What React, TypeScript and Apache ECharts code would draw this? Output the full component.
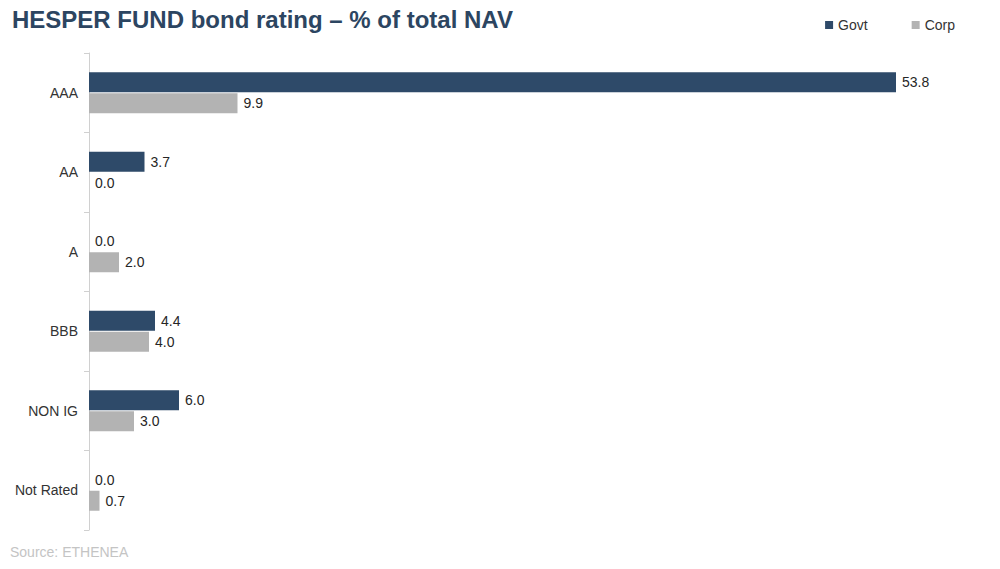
import React, { useEffect, useRef } from "react";
import * as echarts from "echarts";

const categories = ["AAA", "AA", "A", "BBB", "NON IG", "Not Rated"];
const govtValues = [53.8, 3.7, 0.0, 4.4, 6.0, 0.0];
const corpValues = [9.9, 0.0, 2.0, 4.0, 3.0, 0.7];
const seriesNames = ["Govt", "Corp"];
const titleText = "HESPER FUND bond rating – % of total NAV";
const sourceText = "Source: ETHENEA";

export default function App() {
  const ref = useRef<HTMLDivElement>(null);
  useEffect(() => {
    if (!ref.current) return;
    const chart = echarts.init(ref.current, null, { renderer: "svg" });
    const font = "Liberation Sans, Arial, sans-serif";
    const label = {
      show: true,
      position: "right",
      distance: 6,
      color: "#262626",
      fontSize: 14,
      fontFamily: font,
      formatter: (p: any) => Number(p.value).toFixed(1),
    };
    chart.setOption({
      animation: false,
      backgroundColor: "#ffffff",
      title: {
        text: titleText,
        left: 7,
        top: 2,
        textStyle: { color: "#2C4561", fontSize: 24, fontWeight: "bold", fontFamily: font },
      },
      legend: {
        data: seriesNames,
        right: 40,
        top: 13,
        itemWidth: 8,
        itemHeight: 8,
        itemGap: 44,
        icon: "rect",
        textStyle: { color: "#333333", fontSize: 14, fontFamily: font },
      },
      graphic: [
        {
          type: "text",
          left: 10,
          top: 545,
          style: { text: sourceText, fill: "#C4C4C4", fontSize: 14, fontFamily: font },
        },
      ],
      grid: { left: 89, right: 11, top: 53, bottom: 39, containLabel: false },
      xAxis: {
        type: "value",
        min: 0,
        max: 60,
        show: false,
        splitLine: { show: false },
      },
      yAxis: {
        type: "category",
        data: categories,
        inverse: true,
        axisLine: { show: true, lineStyle: { color: "#D0D0D0", width: 1 } },
        axisTick: { show: true, length: 5, lineStyle: { color: "#D0D0D0" } },
        axisLabel: { color: "#333333", fontSize: 14, fontFamily: font, margin: 11 },
      },
      series: [
        {
          name: seriesNames[0],
          type: "bar",
          data: govtValues,
          barWidth: 20,
          barGap: "5%",
          itemStyle: { color: "#2E4A69" },
          label,
        },
        {
          name: seriesNames[1],
          type: "bar",
          data: corpValues,
          barWidth: 20,
          barGap: "5%",
          itemStyle: { color: "#B3B3B3" },
          label,
        },
      ],
    });
    return () => chart.dispose();
  }, []);
  return <div ref={ref} style={{ width: 1000, height: 569, position: "absolute", left: 0, top: 0 }} />;
}
